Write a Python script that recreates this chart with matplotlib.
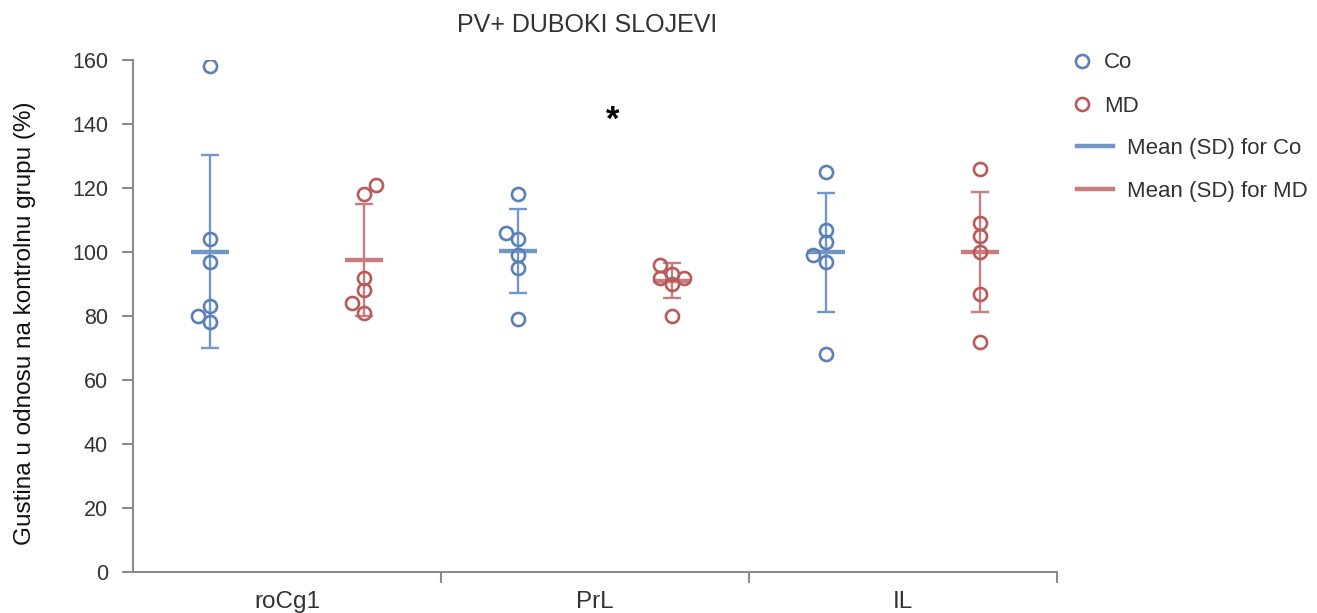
import numpy as np
import matplotlib
matplotlib.use('Agg')
import matplotlib.pyplot as plt
from matplotlib.lines import Line2D

plt.rcParams['font.family'] = ['Liberation Sans', 'DejaVu Sans']

# Data
regions = ['roCg1', 'PrL', 'IL']

co_values = [[158, 104, 97, 83, 80, 78],
             [118, 106, 104, 99, 95, 79],
             [125, 107, 103, 99, 97, 68]]
md_values = [[121, 118, 92, 88, 84, 81],
             [96, 93, 92, 92, 90, 80],
             [126, 109, 105, 100, 87, 72]]

# small horizontal jitter of overlapping points (category units)
co_jitter = [[0, 0, 0, 0, -0.038, 0],
             [0, -0.039, 0, 0, 0, 0],
             [0, 0, 0, -0.042, 0, 0]]
md_jitter = [[0.038, 0, 0, 0, -0.038, 0],
             [-0.038, 0, -0.038, 0.038, 0, 0],
             [0, 0, 0, 0, 0, 0]]

co_mean = [100.1, 100.3, 99.9]
co_sd = [30.2, 13.0, 18.5]
md_mean = [97.5, 91.0, 100.0]
md_sd = [17.6, 5.5, 18.7]

blue = '#5A80B7'
blue_bar = '#7397C4'
red = '#B95A5B'
red_bar = '#C87C7D'
axis_grey = '#8C8C8C'
text_grey = '#333333'

fig = plt.figure(figsize=(13.17, 6.13), dpi=100)
ax = fig.add_axes([0.101, 0.0669, 0.7016, 0.8352])

x = np.arange(len(regions))
offset = 0.25

for i in range(len(regions)):
    for vals, jit, mean, sd, pos, c, cb in [
            (co_values[i], co_jitter[i], co_mean[i], co_sd[i], x[i] - offset, blue, blue_bar),
            (md_values[i], md_jitter[i], md_mean[i], md_sd[i], x[i] + offset, red, red_bar)]:
        ax.errorbar(pos, mean, yerr=sd, fmt='none', ecolor=cb, elinewidth=1.7,
                    capsize=6.8, capthick=1.7, zorder=2)
        ax.hlines(mean, pos - 0.063, pos + 0.063, colors=cb, linewidth=3.2, zorder=2)
        ax.plot(pos + np.array(jit), vals, 'o', markerfacecolor='none',
                markeredgecolor=c, markersize=9.4, markeredgewidth=1.9,
                linestyle='none', zorder=3)

ax.set_xlim(-0.5, 2.5)
ax.set_ylim(0, 160)
ax.set_yticks(np.arange(0, 161, 20))
ax.set_xticks(x)
ax.set_xticklabels(regions)
ax.set_xticks([0.5, 1.5, 2.5], minor=True)
ax.tick_params(axis='x', which='major', length=0, pad=14, labelsize=17.5, labelcolor=text_grey)
ax.tick_params(axis='x', which='minor', length=8, width=1.5, color=axis_grey, direction='out')
ax.tick_params(axis='y', length=8, width=1.5, color=axis_grey, labelsize=15.5,
               labelcolor=text_grey, pad=10)

for s in ['top', 'right']:
    ax.spines[s].set_visible(False)
for s in ['left', 'bottom']:
    ax.spines[s].set_color(axis_grey)
    ax.spines[s].set_linewidth(1.5)

ax.set_ylabel('Gustina u odnosu na kontrolnu grupu (%)', fontsize=17.5,
              color='#111111', va='center')
ax.yaxis.set_label_coords(-0.117, 0.485)
fig.text(0.4457, 0.959, 'PV+ DUBOKI SLOJEVI', fontsize=18, color=text_grey,
         ha='center', va='center')

# significance mark
ax.text(1.058, 141, '*', fontsize=25, fontweight='bold', ha='center', va='center')

# legends
h_pts = [Line2D([], [], marker='o', linestyle='none', markerfacecolor='none',
                markeredgecolor=blue, markersize=9.4, markeredgewidth=1.9),
         Line2D([], [], marker='o', linestyle='none', markerfacecolor='none',
                markeredgecolor=red, markersize=9.4, markeredgewidth=1.9)]
leg1 = fig.legend(h_pts, ['Co', 'MD'], loc='upper left',
                  bbox_to_anchor=(0.7997, 0.947), frameon=False, fontsize=16,
                  handlelength=0.8, handletextpad=0.6, labelspacing=1.0,
                  labelcolor=text_grey)
h_lines = [Line2D([], [], color=blue_bar, linewidth=3.2),
           Line2D([], [], color=red_bar, linewidth=3.2)]
leg2 = fig.legend(h_lines, ['Mean (SD) for Co', 'Mean (SD) for MD'], loc='upper left',
                  bbox_to_anchor=(0.8026, 0.808), frameon=False, fontsize=16,
                  handlelength=1.62, handletextpad=0.63, labelspacing=1.0,
                  labelcolor=text_grey)

fig.savefig('out.png', dpi=100, facecolor='white')
